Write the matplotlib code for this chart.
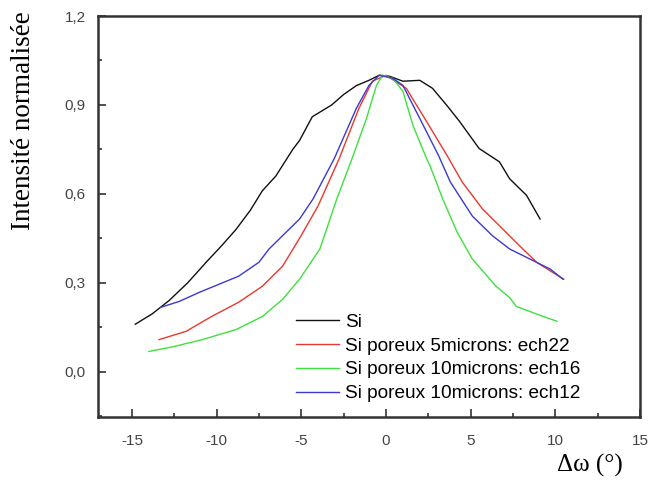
import matplotlib
matplotlib.use("Agg")
import matplotlib.pyplot as plt
from matplotlib.ticker import MultipleLocator, FuncFormatter

# Values (delta omega in degrees, normalised intensity)
si_x = [-14.8, -13.8, -12.8, -11.7, -10.6, -9.7, -8.85, -8.0, -7.3, -6.5, -5.5, -5.1, -4.35,
        -3.2, -2.5, -1.75, -1.0, -0.4, 0.2, 1.0, 2.0, 2.75, 3.6, 4.35, 5.5, 6.7, 7.3, 8.3, 9.1]
si_y = [0.16, 0.195, 0.24, 0.30, 0.37, 0.425, 0.48, 0.545, 0.61, 0.66, 0.75, 0.78, 0.86,
        0.90, 0.935, 0.965, 0.983, 1.0, 0.997, 0.98, 0.983, 0.956, 0.898, 0.844, 0.753, 0.708,
        0.651, 0.595, 0.515]

e22_x = [-13.4, -11.8, -10.3, -8.7, -7.3, -6.1, -5.1, -4.0, -2.75, -1.6, -0.8, 0.0,
         1.2, 2.4, 3.6, 4.5, 5.7, 6.9, 7.9, 8.9, 9.7, 10.5]
e22_y = [0.108, 0.136, 0.186, 0.234, 0.288, 0.356, 0.45, 0.56, 0.72, 0.888, 0.98, 1.0,
         0.956, 0.844, 0.73, 0.64, 0.549, 0.481, 0.424, 0.369, 0.34, 0.312]

e16_x = [-14.0, -12.5, -10.85, -8.85, -7.3, -6.1, -5.1, -3.9, -2.9, -2.0, -1.15, -0.56,
         -0.2, 0.4, 1.0, 1.6, 2.4, 2.6, 3.35, 4.2, 5.1, 6.5, 7.3, 7.7, 9.1, 10.1]
e16_y = [0.068, 0.085, 0.108, 0.142, 0.186, 0.244, 0.312, 0.414, 0.583, 0.719, 0.854, 0.966,
         1.0, 0.99, 0.946, 0.83, 0.719, 0.695, 0.583, 0.471, 0.38, 0.288, 0.25, 0.22, 0.19, 0.17]

e12_x = [-13.3, -12.2, -11.0, -9.85, -8.7, -7.5, -6.9, -5.1, -4.3, -3.05, -1.75, -1.0, -0.4,
         0.4, 1.0, 2.0, 3.1, 3.8, 5.1, 6.3, 7.3, 8.5, 9.7, 10.45]
e12_y = [0.217, 0.237, 0.268, 0.295, 0.322, 0.369, 0.414, 0.515, 0.583, 0.719, 0.888, 0.966, 1.0,
         0.99, 0.966, 0.854, 0.73, 0.64, 0.525, 0.458, 0.414, 0.38, 0.346, 0.312]

labels = ["Si", "Si poreux 5microns: ech22", "Si poreux 10microns: ech16",
          "Si poreux 10microns: ech12"]
colors = ["#111111", "#e8392e", "#3fe03f", "#3a3ad0"]

fig = plt.figure(figsize=(6.51, 4.86), dpi=100)
ax = fig.add_axes([98/651, 69/486, 542/651, 401/486])

for xs, ys, lab, c in zip([si_x, e22_x, e16_x, e12_x], [si_y, e22_y, e16_y, e12_y], labels, colors):
    ax.plot(xs, ys, color=c, lw=1.0, label=lab)

ax.set_xlim(-17, 15)
ax.set_ylim(-0.153, 1.2)
ax.xaxis.set_major_locator(MultipleLocator(5))
ax.xaxis.set_minor_locator(MultipleLocator(2.5))
ax.yaxis.set_major_locator(MultipleLocator(0.3))
ax.yaxis.set_minor_locator(MultipleLocator(0.15))
ax.yaxis.set_major_formatter(FuncFormatter(lambda v, p: f"{v:.1f}".replace(".", ",").replace("-0,0", "0,0")))
ax.xaxis.set_major_formatter(FuncFormatter(lambda v, p: f"{v:g}"))

for s in ax.spines.values():
    s.set_linewidth(1.8)
    s.set_color("#333333")
ax.tick_params(which="both", direction="in", top=False, right=False, colors="#333333",
               labelsize=11, width=1.2)
ax.tick_params(which="major", length=6)
ax.tick_params(which="minor", length=3)
ax.tick_params(axis="y", which="major", pad=9)
ax.tick_params(axis="x", which="major", pad=12)
for t in ax.get_xticklabels() + ax.get_yticklabels():
    t.set_fontfamily("Liberation Sans")
    t.set_color("#444444")

fig.text(24/651, 1 - 121/486, "Intensité normalisée", rotation=90, ha="center", va="center",
         fontsize=19.5, family="Liberation Serif")
fig.text(590/651, 1 - 465/486, "Δω (°)", ha="center", va="center",
         fontsize=18, family="Liberation Serif")

leg = ax.legend(loc="upper left", bbox_to_anchor=(286/651, 1 - 304/486),
                bbox_transform=fig.transFigure, frameon=False,
                prop={"family": "Liberation Sans", "size": 13.7},
                handlelength=2.3, handletextpad=0.3, labelspacing=0.34, borderpad=0)

fig.savefig("out.png", dpi=100, facecolor="white")
